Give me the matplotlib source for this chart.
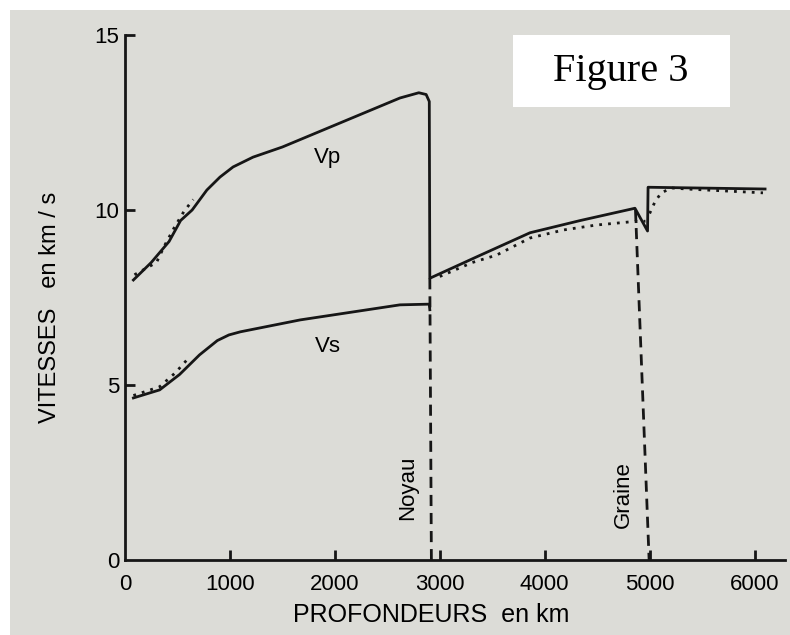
"""Seismic velocity profile (Vp, Vs) versus depth, textbook-style figure."""

import matplotlib

matplotlib.use("Agg")
import matplotlib.pyplot as plt
from matplotlib.patches import Rectangle

plt.rcParams.update({
    "font.family": ["Liberation Sans", "DejaVu Sans"],
    "font.size": 16,
})

PAPER = "#dcdcd7"
INK = "#161616"

# P-wave velocity (solid), km and km/s
vp_depth = [80, 250, 420, 530, 640, 780, 905, 1030, 1220, 1500, 1980, 2620, 2800, 2870,
            2900, 2905, 3380, 3860, 4340, 4860, 4980, 4985, 6100]
vp_speed = [8.0, 8.5, 9.1, 9.7, 10.0, 10.57, 10.94, 11.23, 11.51, 11.8, 12.4, 13.2, 13.35,
            13.3, 13.1, 8.05, 8.7, 9.35, 9.7, 10.05, 9.4, 10.65, 10.6]

# P-wave velocity, second model (dotted)
vp2_depth = [90, 300, 380, 470, 560, 650]
vp2_speed = [8.15, 8.5, 9.0, 9.5, 9.95, 10.3]
vp2c_depth = [3000, 3310, 3540, 3860, 4180, 4490, 4810, 4960]
vp2c_speed = [8.1, 8.5, 8.71, 9.2, 9.43, 9.57, 9.66, 9.68]
vp2i_depth = [5000, 5050, 5110, 5210, 5350, 6080]
vp2i_speed = [9.9, 10.23, 10.49, 10.63, 10.6, 10.49]

# S-wave velocity (solid) and second model (dotted)
vs_depth = [80, 330, 520, 710, 880, 990, 1100, 1670, 2620, 2900, 2905]
vs_speed = [4.63, 4.86, 5.3, 5.86, 6.27, 6.43, 6.52, 6.86, 7.29, 7.31, 7.15]
vs2_depth = [80, 330, 480, 600]
vs2_speed = [4.7, 4.95, 5.35, 5.75]

# boundaries: (depth at top, velocity at top, depth at axis)
noyau = (2905, 8.05, 2920)
graine = (4865, 10.0, 4995)

xticks = [0, 1000, 2000, 3000, 4000, 5000, 6000]
yticks = [0, 5, 10, 15]

fig = plt.figure(figsize=(7.9, 6.35), dpi=100, facecolor=PAPER)
# white margins of the scanned page
fig.add_artist(Rectangle((0, 0), 10 / 790, 1, transform=fig.transFigure,
                         facecolor="white", edgecolor="none", zorder=-5))
fig.add_artist(Rectangle((0, 1 - 10 / 635), 1, 10 / 635, transform=fig.transFigure,
                         facecolor="white", edgecolor="none", zorder=-5))

ax = fig.add_axes([125 / 790, 75 / 635, 660 / 790, 525 / 635])
ax.set_facecolor("none")
ax.set_xlim(0, 6290)
ax.set_ylim(0, 15)

ax.plot(vp_depth, vp_speed, color=INK, lw=2.0, solid_joinstyle="round")
ax.plot(vs_depth, vs_speed, color=INK, lw=2.0, solid_joinstyle="round")
for d, v in [(vp2_depth, vp2_speed), (vp2c_depth, vp2c_speed),
             (vp2i_depth, vp2i_speed), (vs2_depth, vs2_speed)]:
    ax.plot(d, v, color=INK, lw=2.0, linestyle=(0, (1, 2.2)))

for d0, v0, d1 in [noyau, graine]:
    ax.plot([d0, d1], [v0, 0], color=INK, lw=2.0, linestyle=(0, (4, 2.5)))

ax.text(1933, 11.5, "Vp", ha="center", va="center", fontsize=16)
ax.text(1933, 6.1, "Vs", ha="center", va="center", fontsize=16)
ax.text(2695, 2.06, "Noyau", rotation=90, ha="center", va="center", fontsize=16)
ax.text(4752, 1.86, "Graine", rotation=90, ha="center", va="center", fontsize=16)

for s in ["top", "right"]:
    ax.spines[s].set_visible(False)
for s in ["left", "bottom"]:
    ax.spines[s].set_linewidth(2.0)
    ax.spines[s].set_color(INK)

ax.set_xticks(xticks)
ax.set_yticks(yticks)
ax.tick_params(axis="x", direction="in", length=7, width=2, color=INK, pad=10, labelsize=16)
ax.tick_params(axis="y", direction="in", length=7, width=2, color=INK, pad=4, labelsize=16)
ax.yaxis.get_major_ticks()[0].tick1line.set_visible(False)
ax.xaxis.get_major_ticks()[0].tick1line.set_visible(False)

fig.text(431 / 790, 1 - 615 / 635, "PROFONDEURS  en km", ha="center", va="center", fontsize=18)
fig.text(50 / 790, 1 - 307 / 635, "VITESSES   en km / s", rotation=90,
         ha="center", va="center", fontsize=17)

fig.add_artist(Rectangle((513 / 790, 1 - 107 / 635), 217 / 790, 72 / 635,
                         transform=fig.transFigure, facecolor="white",
                         edgecolor="none", zorder=5))
fig.text(621 / 790, 1 - 72 / 635, "Figure 3", ha="center", va="center", fontsize=29,
         family=["Liberation Serif", "DejaVu Serif"], zorder=6)

fig.savefig("out.png", dpi=100, facecolor=fig.get_facecolor())
